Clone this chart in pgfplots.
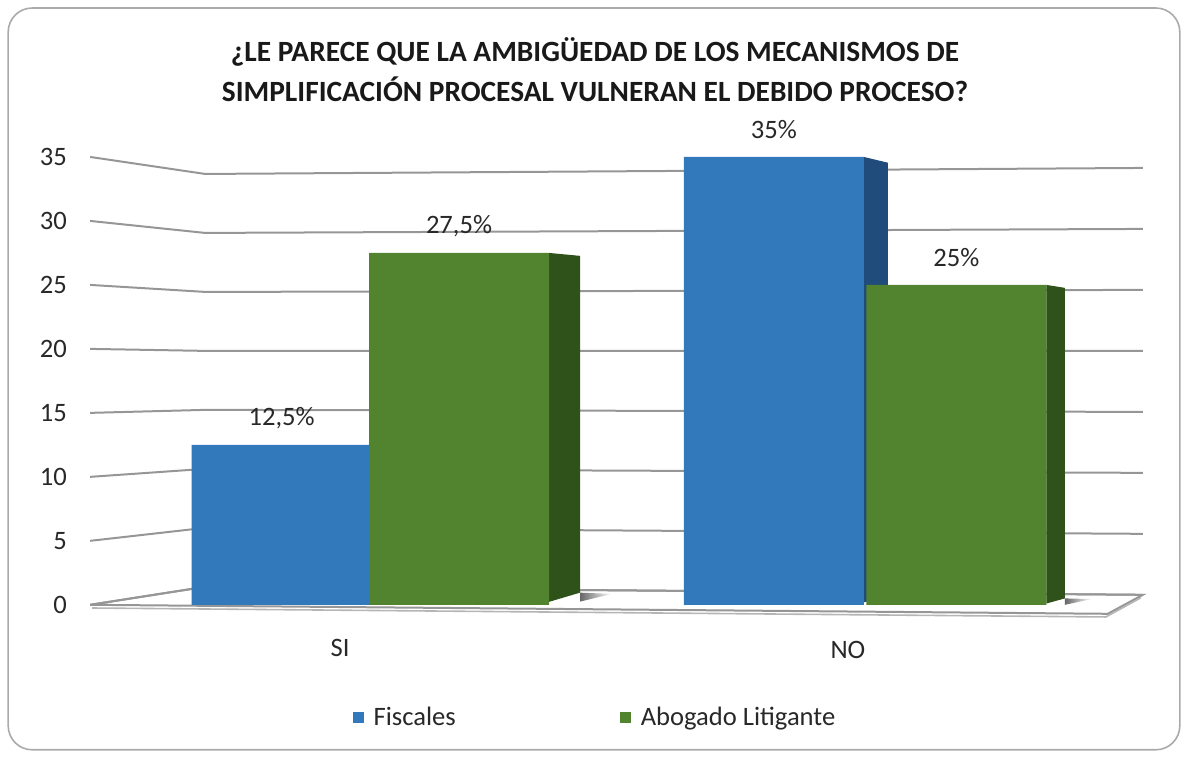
\documentclass[border=0pt]{standalone}
\usepackage{fontspec}
\setmainfont{Carlito}
\usepackage{pgfplots}
\pgfplotsset{compat=1.18}
\definecolor{fisc}{RGB}{50,121,188}
\definecolor{fiscside}{RGB}{31,76,122}
\definecolor{abog}{RGB}{82,131,46}
\definecolor{abogside}{RGB}{47,82,27}
\definecolor{gridgray}{RGB}{150,150,150}
\definecolor{framegray}{RGB}{170,170,170}
\definecolor{txt}{RGB}{40,40,40}

% 1 px of the reference = 0.5pt; y in data units (py = 605 - 12.8*v)
\begin{document}
\begin{tikzpicture}
\begin{axis}[
    width=594pt, height=379pt, scale only axis,
    xmin=0, xmax=1188, ymin=-11.953, ymax=47.266,
    axis line style={draw=none},
    xtick=\empty,
    ytick={0,5,...,35},
    major tick length=0pt,
    yticklabel style={anchor=east, inner sep=0pt, xshift=33.5pt,
        font=\fontsize{13.3}{15}\selectfont, text=txt},
    /pgf/number format/assume math mode=true,
    clip=false,
    legend columns=2,
    legend style={at={(axis cs:596,-8.83)}, anchor=center, draw=none, fill=none,
        font=\fontsize{13.3}{15}\selectfont, text=txt,
        /tikz/every even column/.append style={column sep=80pt}},
]
    % floor
    \addplot[fill=white, draw=gridgray, line width=1pt, forget plot]
        coordinates {(90,0) (205,1.406) (1143,0.781) (1108,-0.703)} -- cycle;
    \addplot[draw=gridgray!70, line width=0.8pt, forget plot]
        coordinates {(92,-0.25) (1106,-0.95) (1141,0.55)};
    % perspective gridlines (left wall + back wall)
    \addplot[gridgray, line width=1pt, forget plot] coordinates {(90,35) (205,33.672) (1143,34.141)};
    \addplot[gridgray, line width=1pt, forget plot] coordinates {(90,30) (205,29.063) (1143,29.375)};
    \addplot[gridgray, line width=1pt, forget plot] coordinates {(90,25) (205,24.453) (1143,24.609)};
    \addplot[gridgray, line width=1pt, forget plot] coordinates {(90,20) (205,19.844) (1143,19.844)};
    \addplot[gridgray, line width=1pt, forget plot] coordinates {(90,15) (205,15.234) (1143,15.078)};
    \addplot[gridgray, line width=1pt, forget plot] coordinates {(90,10) (205,10.625) (1143,10.313)};
    \addplot[gridgray, line width=1pt, forget plot] coordinates {(90,5) (205,6.016) (1143,5.547)};
    \addplot[gridgray, line width=1pt, forget plot] coordinates {(90,0) (205,1.406) (1143,0.781)};
    % shadows on the floor
    \addplot[forget plot, draw=none, left color=black!60, right color=white]
        coordinates {(580,0.95) (612,0.85) (580,0.25)} -- cycle;
    \addplot[forget plot, draw=none, left color=black!60, right color=white]
        coordinates {(1065,0.5) (1092,0.45) (1065,0.0)} -- cycle;
    % side faces of the Fiscales bars
    \addplot[forget plot, fill=fiscside, draw=none]
        coordinates {(864,0.2) (864,35) (888,34.55) (888,0.6)} -- cycle;
    % Fiscales
    \addplot[ybar, bar width=180, bar shift=0, fill=fisc, draw=none,
        nodes near coords, point meta=explicit symbolic,
        every node near coord/.append style={anchor=center, yshift=13.5pt,
            font=\fontsize{13.3}{15}\selectfont, text=txt},
        legend image code/.code={\fill[fisc] (0pt,-2.8pt) rectangle (5.5pt,2.7pt); \path (8.5pt,0pt);}]
        coordinates {(281.5,12.5) [12,5\%] (774,35) [35\%]};
    \addlegendentry{Fiscales}
    % side faces of the Abogado Litigante bars
    \addplot[forget plot, fill=abogside, draw=none]
        coordinates {(549,0.23) (549,27.5) (580,27.27) (580,0.95)} -- cycle;
    \addplot[forget plot, fill=abogside, draw=none]
        coordinates {(1046.5,0.1) (1046.5,25) (1065,24.77) (1065,0.5)} -- cycle;
    % Abogado Litigante
    \addplot[ybar, bar width=180, bar shift=0, fill=abog, draw=none,
        nodes near coords, point meta=explicit symbolic,
        every node near coord/.append style={anchor=center, yshift=13.5pt,
            font=\fontsize{13.3}{15}\selectfont, text=txt},
        legend image code/.code={\fill[abog] (0pt,-2.8pt) rectangle (5.5pt,2.7pt); \path (8.5pt,0pt);}]
        coordinates {(459,27.5) [27,5\%] (956.5,25) [25\%]};
    \addlegendentry{Abogado Litigante}

    % categories, title, frame
    \node[font=\fontsize{13.3}{15}\selectfont, text=txt] at (axis cs:340,-3.36) {SI};
    \node[font=\fontsize{13.3}{15}\selectfont, text=txt] at (axis cs:848,-3.52) {NO};
    \node[font=\bfseries\fontsize{14.7}{20}\selectfont, align=center, text=black!90]
        at (axis cs:595,41.8) {¿LE PARECE QUE LA AMBIGÜEDAD DE LOS MECANISMOS DE\\
        SIMPLIFICACIÓN PROCESAL VULNERAN EL DEBIDO PROCESO?};
    \draw[framegray, line width=0.8pt, rounded corners=12pt]
        (axis cs:8,46.64) rectangle (axis cs:1180,-11.33);
\end{axis}
\end{tikzpicture}
\end{document}
